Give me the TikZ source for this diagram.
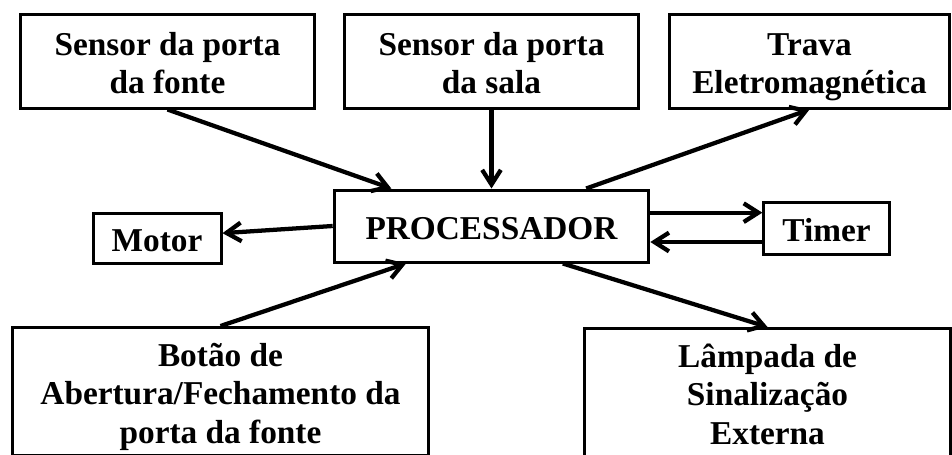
\documentclass[tikz,border=0pt]{standalone}
\usepackage{fontspec}
\setmainfont{Liberation Serif}
\usetikzlibrary{arrows.meta,shapes}
\newcommand{\sobe}{\rule{0pt}{27pt}}
\newcommand{\desce}{\rule[-7pt]{0pt}{7pt}}
\tikzstyle{bloco}=[rectangle,draw=black,line width=2.25pt,align=center,font=\fontsize{25}{29}\selectfont\bfseries,inner sep=2pt]
\tikzstyle{seta}=[-{Straight Barb[length=11pt,width=14pt]}, line width=3.2pt]

\begin{document}
\begin{tikzpicture}[x=0.75pt,y=-0.75pt]
\useasboundingbox (0,0) rectangle (952,454);
\node[bloco,minimum width=221pt,minimum height=70.5pt] (fonte) at (167.5,61) {\sobe Sensor da porta\\da fonte\desce};
\node[bloco,minimum width=220pt,minimum height=70.5pt] (sala) at (491.5,61) {\sobe Sensor da porta\\da sala\desce};
\node[bloco,minimum width=210.5pt,minimum height=70.5pt] (trava) at (809.5,61) {\sobe Trava\\Eletromagnética\desce};
\node[bloco,minimum width=236pt,minimum height=54pt] (proc) at (491.5,226) {\sobe PROCESSADOR\desce};
\node[bloco,minimum width=96pt,minimum height=38pt] (motor) at (157,238.5) {\sobe Motor\desce};
\node[bloco,minimum width=94pt,minimum height=39pt] (timer) at (826.5,228) {\sobe Timer\desce};
\node[bloco,minimum width=312.5pt,anchor=north] (botao) at (220.5,326) {\sobe Botão de\\Abertura/Fechamento da\\porta da fonte\desce};
\node[bloco,minimum width=275pt,anchor=north] (lampada) at (767.5,327) {\sobe Lâmpada de\\Sinalização\\Externa\desce};
\draw[seta](fonte.south)--([xshift=44pt]proc.north west);\draw[seta](sala.south)--(proc.north);
\draw[seta]([xshift=71pt]proc.north)--(trava.south);
\draw[seta](proc.west)--([yshift=4pt]motor.east);
\draw[seta]([yshift=10pt]proc.east)--([yshift=10pt]proc.east -| timer.west);
\draw[seta]([yshift=-12pt]proc.east -| timer.west)--([yshift=-12pt]proc.east);
\draw[seta](botao.north)--([xshift=55pt]proc.south west);
\draw[seta]([xshift=53.5pt]proc.south)--(lampada.north);
\end{tikzpicture}
\end{document}
